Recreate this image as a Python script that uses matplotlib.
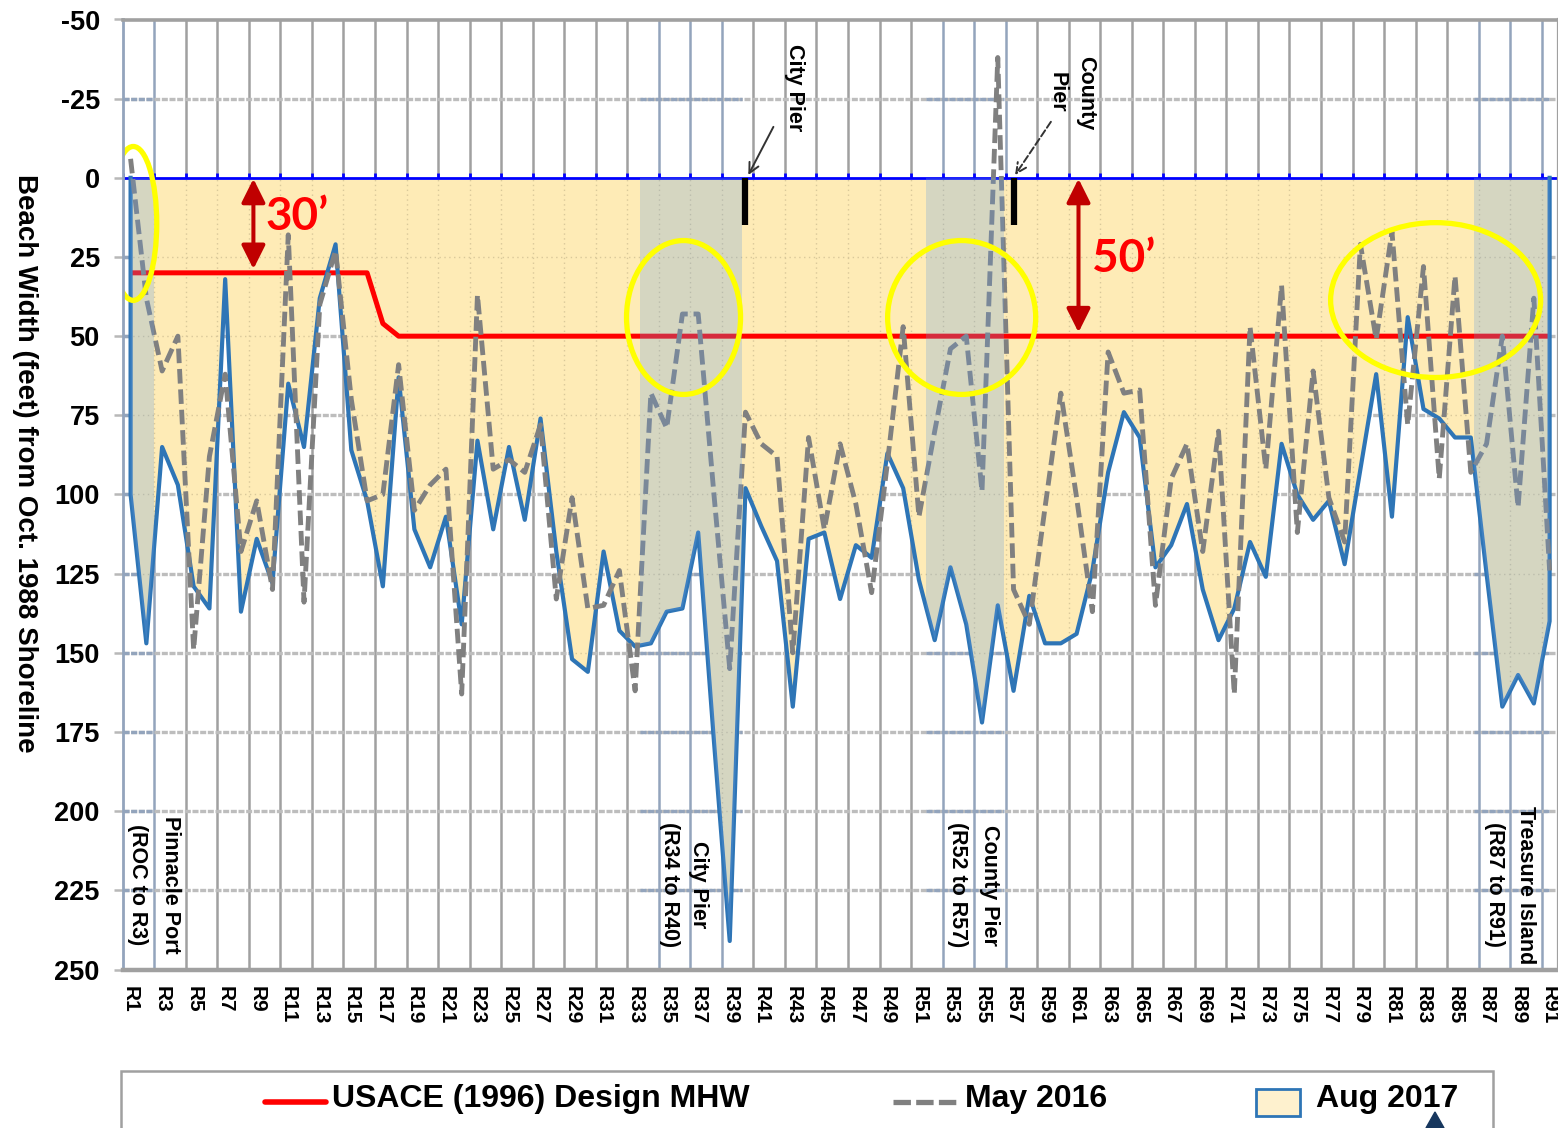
import numpy as np
import matplotlib
matplotlib.use("Agg")
import matplotlib.pyplot as plt
from matplotlib.patches import Ellipse, Rectangle, Polygon
from matplotlib.lines import Line2D

# ---------------- data ----------------
stations = ["R%d" % i for i in range(1, 92)]

aug_2017 = [100, 147, 85, 97, 129, 136, 32, 137, 114, 128,
            65, 85, 38, 21, 86, 102, 129, 63, 111, 123,
            107, 141, 83, 111, 85, 108, 76, 118, 152, 156,
            118, 143, 148, 147, 137, 136, 112, 178, 241, 98,
            110, 121, 167, 114, 112, 133, 116, 120, 87, 98,
            127, 146, 123, 141, 172, 135, 162, 132, 147, 147,
            144, 124, 93, 74, 82, 123, 116, 103, 130, 146,
            136, 115, 126, 84, 100, 108, 102, 122, 92, 62,
            107, 44, 73, 76, 82, 82, 125, 167, 157, 166,
            140]

may_2016 = [-6, 38, 61, 50, 149, 88, 62, 118, 102, 130,
            18, 134, 40, 23, 70, 102, 100, 59, 105, 97,
            92, 163, 37, 92, 89, 93, 78, 133, 101, 136,
            135, 124, 162, 68, 79, 43, 43, 100, 155, 74,
            84, 88, 150, 82, 111, 84, 103, 131, 90, 47,
            107, 80, 54, 50, 99, -38, 130, 141, 104, 68,
            101, 137, 55, 68, 67, 135, 95, 84, 118, 80,
            163, 47, 92, 34, 112, 61, 101, 115, 21, 51,
            17, 78, 28, 95, 31, 93, 84, 50, 104, 38,
            124]

design_mhw = [30, 30, 30, 30, 30, 30, 30, 30, 30, 30,
              30, 30, 30, 30, 30, 30, 46, 50, 50, 50,
              50, 50, 50, 50, 50, 50, 50, 50, 50, 50,
              50, 50, 50, 50, 50, 50, 50, 50, 50, 50,
              50, 50, 50, 50, 50, 50, 50, 50, 50, 50,
              50, 50, 50, 50, 50, 50, 50, 50, 50, 50,
              50, 50, 50, 50, 50, 50, 50, 50, 50, 50,
              50, 50, 50, 50, 50, 50, 50, 50, 50, 50,
              50, 50, 50, 50, 50, 50, 50, 50, 50, 50,
              50]

# shaded reaches (station-position ranges)
bands = [(0.5, 2.5), (33.3, 39.75), (51.45, 56.4), (86.2, 91.0)]
y_ticks = [-50, -25, 0, 25, 50, 75, 100, 125, 150, 175, 200, 225, 250]

# ---------------- style ----------------
FILL = "#FEEBB6"
BAND = "#6A9FE0"
BLUE = "#2E75B6"
GRID = "#A0A0A0"
GRID_B = "#93A4BC"
HGRID = "#BDBDBD"
FONT = ["Liberation Sans", "DejaVu Sans"]

W_PX, H_PX = 1558, 1128
fig = plt.figure(figsize=(W_PX / 100, H_PX / 100), dpi=100)


def fx(px):
    return px / W_PX


def fy(py):
    return 1 - py / H_PX


L, R, T, B = 122.7, 1557.5, 19.5, 969.5
ax = fig.add_axes([fx(L), fy(B), fx(R) - fx(L), fy(T) - fy(B)])
ax.set_xlim(0.5, len(stations) + 0.5)
ax.set_ylim(250, -50)

x = np.arange(1, len(stations) + 1)
aug = np.array(aug_2017, dtype=float)
may = np.array(may_2016, dtype=float)
mhw = np.array(design_mhw, dtype=float)


def in_band(v):
    return any(a - 0.3 <= v <= b + 0.3 for a, b in bands)


# ---- gridlines ----
grid_x = np.arange(2.5, len(stations), 2)
vcols = [GRID_B if in_band(g) else GRID for g in grid_x]
ax.vlines(grid_x, -50, 250, colors=vcols, lw=1.8, zorder=0.5)
h_lines = [t for t in y_ticks if t not in (-50, 0, 250)]
ax.hlines(h_lines, 0.5, len(stations) + 0.5, colors=HGRID, lw=2.4,
          linestyles=(0, (1.8, 0.5)), zorder=0.5)
for a, b in bands:
    ax.hlines(h_lines, a, b, colors=GRID_B, lw=2.4,
              linestyles=(0, (1.8, 0.5)), zorder=0.55)

# ---- Aug 2017 area ----
area = ax.fill_between(x, 0, aug, color=FILL, lw=0, zorder=1)
clip_path = area.get_paths()[0]

fv = ax.vlines(np.arange(0.5, len(stations), 2), -50, 250, colors="#D9C89A",
               lw=1.0, linestyles=(0, (1, 2.5)), zorder=1.2)
fv.set_clip_path(clip_path, ax.transData)
fh = ax.hlines(h_lines, 0.5, len(stations) + 0.5, colors="#D9C89A", lw=1.0,
               linestyles=(0, (1, 2.5)), zorder=1.2)
fh.set_clip_path(clip_path, ax.transData)

# zero line
ax.axhline(0, color="#0000FF", lw=2.0, zorder=1.5)
ax.vlines(np.arange(0.5, len(stations), 2), -1.6, 0, colors="#0000FF", lw=2.0, zorder=1.5)

# design MHW
ax.plot(x, mhw, color="#FF0000", lw=3.6, zorder=2, solid_capstyle="butt")
# Aug 2017 outline
ax.plot(np.r_[x[0], x, x[-1]], np.r_[0, aug, 0], color=BLUE, lw=3.0, zorder=3)
# May 2016
ax.plot(x, may, color="#808080", lw=3.5, dashes=(3.0, 1.2), zorder=3.5)

# shaded reaches, clipped to the area
for a, b in bands:
    sp = ax.axvspan(a, b, color=BAND, alpha=0.27, lw=0, zorder=4)
    sp.set_clip_path(clip_path, ax.transData)

# pier markers
ax.vlines([40.0, 57.0], 0, 15, colors="black", lw=4.5, zorder=5)

# yellow ellipses
for (cx, cy, w, h) in [(1.17, 14.4, 2.98, 48.6), (36.07, 44.1, 7.23, 48.6),
                       (53.71, 44.1, 9.39, 48.6), (83.77, 38.6, 13.32, 48.9)]:
    ax.add_patch(Ellipse((cx, cy), w, h, fill=False, edgecolor="#FFFF00",
                         lw=3.8, zorder=6))

# red dimension arrows
for xa, y1 in [(8.79, 28.8), (61.12, 48.8)]:
    ax.annotate("", xy=(xa, 0.3), xytext=(xa, y1),
                arrowprops=dict(arrowstyle="<|-|>", color="#C00000", lw=2.9,
                                mutation_scale=36, shrinkA=0, shrinkB=0),
                zorder=7)
ax.text(9.57, 16.5, "30\u2019", color="#FF0000", fontsize=33, fontweight="bold",
        family=["Lato", "DejaVu Sans"], ha="left", va="baseline", zorder=7)
ax.text(61.97, 29.65, "50\u2019", color="#FF0000", fontsize=33, fontweight="bold",
        family=["Lato", "DejaVu Sans"], ha="left", va="baseline", zorder=7)

# pier callouts at top
ax.annotate("", xy=(40.18, -0.9), xytext=(41.77, -16.1),
            arrowprops=dict(arrowstyle="->", color="#333333", lw=1.4,
                            mutation_scale=18, shrinkA=0, shrinkB=0), zorder=7)
ax.annotate("", xy=(57.1, -0.9), xytext=(59.37, -17.7),
            arrowprops=dict(arrowstyle="->", color="#333333", lw=1.4, ls="--",
                            mutation_scale=18, shrinkA=0, shrinkB=0), zorder=7)
ax.text(43.08, -28.5, "City Pier", rotation=-90, ha="center", va="center",
        fontsize=15.5, fontweight="bold", family=FONT, zorder=7)
ax.text(60.65, -26.9, "County\nPier", rotation=-90, ha="center", va="center",
        fontsize=15.5, fontweight="bold", family=FONT, linespacing=1.45,
        multialignment="center", zorder=7)

# reach labels near bottom
for xl, s in [(1.43, "(ROC to R3)"), (3.56, "Pinnacle Port"),
              (35.15, "(R34 to R40)"), (37.03, "City Pier"),
              (53.45, "(R52 to R57)"), (55.49, "County Pier"),
              (87.49, "(R87 to R91)"), (89.5, "Treasure Island")]:
    ax.text(xl, 223.3, s, rotation=-90, ha="center", va="center",
            fontsize=15.5, fontweight="bold", family=FONT, zorder=7)

# ---- axes styling ----
ax.set_xticks(x[::2])
ax.set_xticklabels(stations[::2], rotation=-90, fontsize=15,
                   fontweight="bold", family=FONT, va="top", ha="center")
ax.set_yticks(y_ticks)
ax.set_yticklabels([str(t) for t in y_ticks], fontsize=19.5,
                   fontweight="bold", family=FONT)
ax.tick_params(axis="x", length=0, pad=12)
ax.tick_params(axis="y", length=6.5, width=1.8, color="#B8B8B8", pad=10,
               direction="out")
for side, col, lw in [("left", GRID_B, 2.0), ("top", GRID, 2.6),
                      ("bottom", GRID, 3.2), ("right", GRID, 1.6)]:
    ax.spines[side].set_color(col)
    ax.spines[side].set_linewidth(lw)
    ax.spines[side].set_zorder(8)

ax.set_ylabel("Beach Width (feet) from Oct. 1988 Shoreline", rotation=-90,
              fontsize=20, fontweight="bold", family=FONT, va="center", ha="center")
ax.yaxis.set_label_coords((25 - L) / (R - L), 1 - (463.5 - T) / (B - T))

# ---- legend (bottom box) ----
fig.add_artist(Rectangle((fx(120.5), fy(1140)), fx(1492.6) - fx(120.5),
                         fy(1070.7) - fy(1140), transform=fig.transFigure,
                         facecolor="white", edgecolor=GRID, lw=1.8, clip_on=False))
fig.add_artist(Line2D([fx(265), fx(326)], [fy(1101.7)] * 2, color="#FF0000", lw=4.0,
                      solid_capstyle="round", transform=fig.transFigure))
fig.add_artist(Line2D([fx(893), fx(956)], [fy(1101.7)] * 2, color="#808080", lw=3.8,
                      dashes=(3.3, 1.0), transform=fig.transFigure))
fig.add_artist(Rectangle((fx(1256), fy(1116)), fx(1300) - fx(1256), fy(1089) - fy(1116),
                         transform=fig.transFigure, facecolor="#FEF1CE",
                         edgecolor=BLUE, lw=2.0))
fig.add_artist(Polygon([(fx(1426), fy(1128)), (fx(1444), fy(1128)), (fx(1435), fy(1112))],
                       closed=True, transform=fig.transFigure, color="#17375E"))
for xt, s in [(332.5, "USACE (1996) Design MHW"), (964.8, "May 2016"), (1316.3, "Aug 2017")]:
    fig.text(fx(xt), fy(1107), s, fontsize=23, fontweight="bold", family=FONT,
             ha="left", va="baseline")

fig.savefig("out.png", dpi=100)
